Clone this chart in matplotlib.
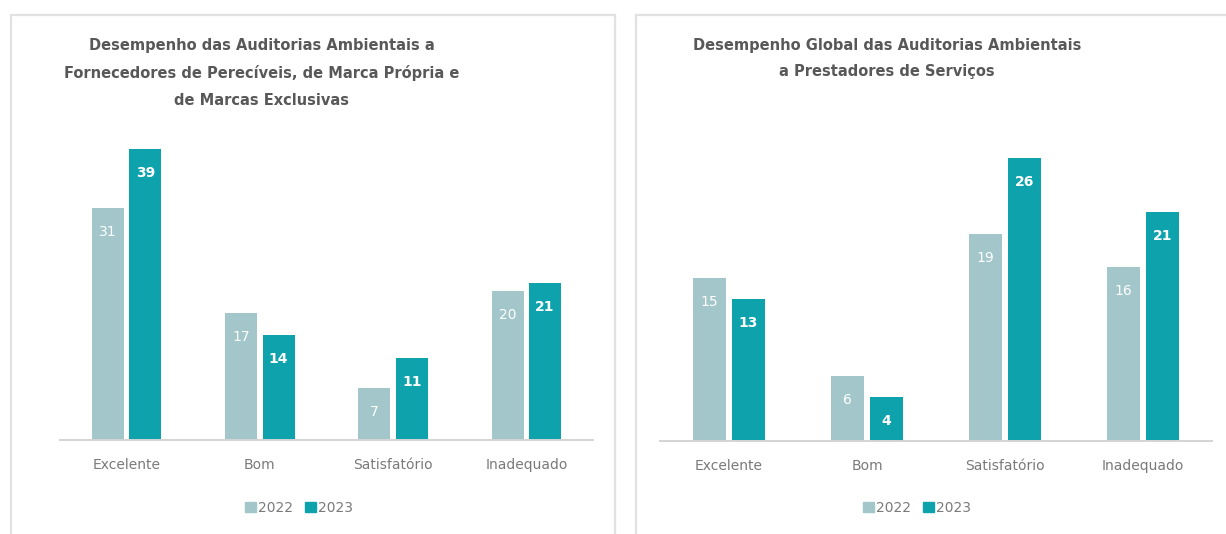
import matplotlib
matplotlib.use('Agg')
import matplotlib.pyplot as plt
import numpy as np
from matplotlib.patches import Rectangle, Patch

# data
categorias = ['Excelente', 'Bom', 'Satisfatório', 'Inadequado']
anos = ['2022', '2023']
forn_2022 = [31, 17, 7, 20]
forn_2023 = [39, 14, 11, 21]
prest_2022 = [15, 6, 19, 16]
prest_2023 = [13, 4, 26, 21]
titulo_forn = 'Desempenho das Auditorias Ambientais a\nFornecedores de Perecíveis, de Marca Própria e\nde Marcas Exclusivas'
titulo_prest = 'Desempenho Global das Auditorias Ambientais\na Prestadores de Serviços'

cor_2022 = '#a2c6ca'
cor_2023 = '#0ea3ac'
cinza_txt = '#585858'

W, H = 1226, 534
fig = plt.figure(figsize=(W / 100, H / 100), dpi=100)
fig.patch.set_facecolor('white')


def px(x0, y0, x1, y1):
    # pixel box -> figure fraction [left, bottom, width, height]
    return [x0 / W, (H - y1) / H, (x1 - x0) / W, (y1 - y0) / H]


# panel frames
for (x0, y0, x1, y1) in [(11, 15, 615, 560), (636, 15, 1260, 560)]:
    fig.patches.append(Rectangle((x0 / W, (H - y1) / H), (x1 - x0) / W, (y1 - y0) / H,
                                 transform=fig.transFigure, fill=False,
                                 edgecolor='#e2e2e2', linewidth=1.6))


def painel(box, v22, v23, ymax, titulo, tx, ty, legx):
    ax = fig.add_axes(px(*box))
    x = np.arange(len(categorias))
    w = 0.24
    b1 = ax.bar(x - 0.14, v22, w, color=cor_2022)
    b2 = ax.bar(x + 0.14, v23, w, color=cor_2023)
    ppu = (box[3] - box[1]) / ymax
    for bars, vals, fw in [(b1, v22, 'normal'), (b2, v23, 'bold')]:
        for b, v in zip(bars, vals):
            ax.text(b.get_x() + b.get_width() / 2, v - 24 / ppu, str(v),
                    ha='center', va='center', color='white', fontsize=10, fontweight=fw)
    ax.set_xlim(-0.5, len(categorias) - 0.5)
    ax.set_ylim(0, ymax)
    ax.set_yticks([])
    ax.set_xticks(x)
    ax.set_xticklabels(categorias, color='#7a7a7a', fontsize=10)
    ax.tick_params(axis='x', length=0, pad=13)
    for s in ['top', 'left', 'right']:
        ax.spines[s].set_visible(False)
    ax.spines['bottom'].set_color('#d4d4d4')
    ax.spines['bottom'].set_linewidth(1.4)
    fig.text(tx / W, 1 - ty / H, titulo, ha='center', va='top', fontsize=10.5,
             fontweight='bold', color=cinza_txt, linespacing=1.95)
    handles = [Patch(color=cor_2022), Patch(color=cor_2023)]
    fig.legend(handles, anos, loc='center', bbox_to_anchor=(legx / W, 1 - 508 / H),
               ncol=2, frameon=False, fontsize=10, handlelength=0.8, handleheight=0.8,
               handletextpad=0.2, columnspacing=0.8, labelcolor='#7a7a7a')


painel((60, 140, 593, 440), forn_2022, forn_2023, 300 / 7.47, titulo_forn, 262, 38, 299)
painel((660, 141, 1212, 441), prest_2022, prest_2023, 300 / 10.9, titulo_prest, 887, 38, 917)

fig.savefig('out.png', dpi=100)
